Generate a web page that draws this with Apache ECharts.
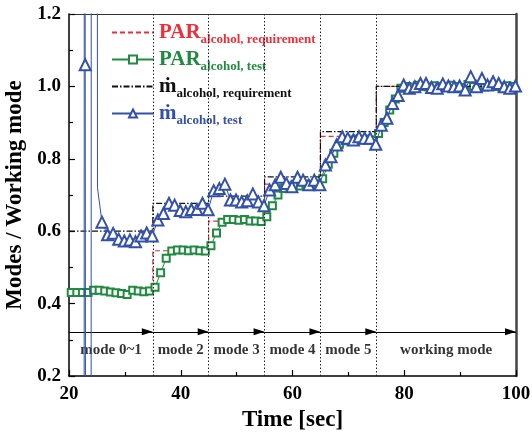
<!DOCTYPE html>
<html><head><meta charset="utf-8">
<script src="https://cdn.jsdelivr.net/npm/echarts@6/dist/echarts.min.js"></script>
<style>html,body{margin:0;padding:0;background:#fff}#c{width:532px;height:437px}</style>
</head><body><div id="c"></div>
<script>
// ---- data ----
const modeStarts = [20, 35, 45, 55, 65, 75, 100];
const modeNames = ['mode 0~1', 'mode 2', 'mode 3', 'mode 4', 'mode 5', 'working mode'];
const parRequirement = [0.43, 0.546, 0.628, 0.73, 0.862, 1.0];
const mdotRequirement = [0.6, 0.677, 0.697, 0.75, 0.875, 1.0];

const parTestTime = [20.4,21.4,22.4,23.4,24.4,25.4,26.4,27.4,28.4,29.4,30.4,31.4,32.4,33.4,34.4,35.4,36.4,37.4,38.4,39.4,
  40.4,41.4,42.4,43.4,44.4,45.4,46.4,47.4,48.4,49.4,50.4,51.4,52.4,53.4,54.4,55.4,56.4,57.4,58.4,59.4,
  60.4,61.4,62.4,63.4,64.4,65.4,66.4,67.4,68.4,69.4,70.4,71.4,72.4,73.4,74.4,75.4,76.4,77.4,78.4,79.4,
  80.4,81.4,82.4,83.4,84.4,85.4,86.4,87.4,88.4,89.4,90.4,91.4,92.4,93.4,94.4,95.4,96.4,97.4,98.4,99.4];
const parTestValues = [0.431,0.431,0.431,0.431,0.437,0.437,0.435,0.432,0.430,0.428,0.425,0.437,0.435,0.433,0.435,0.445,0.485,0.525,0.545,0.548,
  0.548,0.546,0.548,0.546,0.545,0.560,0.595,0.625,0.632,0.632,0.630,0.632,0.628,0.628,0.627,0.640,0.670,0.700,0.718,0.725,
  0.728,0.725,0.730,0.728,0.730,0.745,0.785,0.815,0.840,0.850,0.852,0.855,0.852,0.855,0.852,0.870,0.900,0.935,0.965,0.995,
  1.000,0.998,1.003,1.000,0.998,1.002,1.000,0.998,1.003,1.000,0.997,1.005,1.000,1.002,0.998,1.003,1.000,0.998,1.002,1.000];

const mdotSpikeTime = [22.7, 22.75, 22.9, 23.0, 23.95, 24.0, 25.0, 25.1];
const mdotSpikeValues = [-1, 3, 1.06, -1, -1, 3, 3, 0.72];
const mdotSpikeMarked = [false, false, true, false, false, false, false, false];

const mdotTestTime = [25.9,26.9,27.9,28.9,29.9,30.9,31.9,32.9,33.9,34.9,35.9,36.9,37.9,38.9,39.9,
  40.9,41.9,42.9,43.9,44.9,45.9,46.9,47.9,48.9,49.9,50.9,51.9,52.9,53.9,54.9,55.9,56.9,57.9,58.9,59.9,
  60.9,61.9,62.9,63.9,64.9,65.9,66.9,67.9,68.9,69.9,70.9,71.9,72.9,73.9,74.9,75.9,76.9,77.9,78.9,79.9,
  80.9,81.9,82.9,83.9,84.9,85.9,86.9,87.9,88.9,89.9,90.9,91.9,92.9,93.9,94.9,95.9,96.9,97.9,98.9,99.9];
const mdotTestValues = [0.625,0.590,0.594,0.578,0.573,0.576,0.571,0.587,0.595,0.587,0.631,0.649,0.677,0.672,0.657,
  0.654,0.660,0.660,0.677,0.659,0.712,0.718,0.730,0.686,0.686,0.681,0.684,0.703,0.681,0.670,0.714,0.728,0.749,0.732,0.723,
  0.749,0.741,0.728,0.741,0.728,0.783,0.806,0.838,0.861,0.857,0.852,0.861,0.857,0.857,0.840,0.893,0.912,0.953,0.975,1.004,
  0.995,0.999,1.008,1.008,0.997,0.995,1.007,1.001,0.999,1.001,0.990,1.027,0.999,1.022,1.004,1.013,1.008,0.999,0.995,1.001];

const legendNames = ['PAR_req', 'PAR_test', 'mdot_req', 'mdot_test'];
const legendMain = ['PAR', 'PAR', 'ṁ', 'ṁ'];
const legendSub = ['alcohol, requirement', 'alcohol, test', 'alcohol, requirement', 'alcohol, test'];
const arrowLevel = 0.322;
const modeLabelLevel = 0.272;

// ---- chart ----
const FONT = "'Liberation Serif','Times New Roman',serif";
const RED = '#ee2e38', GREEN = '#1f8b3f', BLUE = '#3350aa', BLACK = '#111111';
const legendColors = [RED, GREEN, BLACK, BLUE];
const legendHasMarker = [false, true, false, true];

function stepData(levels) {
  const d = [];
  for (let i = 0; i < levels.length; i++) {
    d.push([modeStarts[i], levels[i]]);
    d.push([modeStarts[i + 1], levels[i]]);
  }
  return d;
}

const mdotData = mdotSpikeTime.map((t, i) => ({
  value: [t, mdotSpikeValues[i]],
  symbol: mdotSpikeMarked[i] ? 'emptyTriangle' : 'none'
})).concat(mdotTestTime.map((t, i) => [t, mdotTestValues[i]]));

const parTestData = parTestTime.map((t, i) => [t, parTestValues[i]]);

const arrowSegments = [];
for (let i = 0; i < modeNames.length; i++) {
  arrowSegments.push([{ coord: [modeStarts[i], arrowLevel] }, { coord: [modeStarts[i + 1], arrowLevel] }]);
}
const modeLabelData = modeNames.map((n, i) => ({ value: [(modeStarts[i] + modeStarts[i + 1]) / 2, modeLabelLevel], name: n }));
const boundaryLines = modeStarts.slice(1, -1).map(x => ({ xAxis: x }));

const chart = echarts.init(document.getElementById('c'), null, { renderer: 'canvas' });
chart.setOption({
  animation: false,
  backgroundColor: '#fff',
  grid: { left: 69, right: 16, top: 14, bottom: 61, containLabel: false, outerBoundsMode: 'none' },
  textStyle: { fontFamily: FONT },
  legend: {
    orient: 'vertical', left: 111, top: 19, padding: 0, itemGap: 0,
    itemWidth: 42, itemHeight: 10, selectedMode: false,
    textStyle: { fontFamily: FONT, fontWeight: 'bold' },
    formatter: name => {
      const i = legendNames.indexOf(name);
      return '{m|' + legendMain[i] + '}{s|' + legendSub[i] + '}';
    },
    data: legendNames.map((n, i) => ({
      name: n,
      itemStyle: legendHasMarker[i] ? undefined : { opacity: 0 },
      textStyle: {
        rich: {
          m: { fontFamily: FONT, fontWeight: 'bold', fontSize: 21, lineHeight: 24, color: legendColors[i] },
          s: { fontFamily: FONT, fontWeight: 'bold', fontSize: 13, lineHeight: 14, padding: [14, 0, 0, 0], color: legendColors[i] }
        }
      }
    }))
  },
  xAxis: [{
    type: 'value', min: 20, max: 100, interval: 20,
    name: 'Time [sec]', nameLocation: 'middle', nameGap: 31,
    nameTextStyle: { fontFamily: FONT, fontWeight: 'bold', fontSize: 23, color: '#000' },
    axisLine: { show: true, lineStyle: { color: '#000', width: 1.5 } },
    axisTick: { show: true, inside: true, length: 6, lineStyle: { color: '#000', width: 1.2 } },
    minorTick: { show: true, splitNumber: 2, length: 4, lineStyle: { color: '#000', width: 1.2 } },
    axisLabel: { fontFamily: FONT, fontWeight: 'bold', fontSize: 19, color: '#000', margin: 9, showMinLabel: true, showMaxLabel: true },
    splitLine: { show: false }
  }, {
    type: 'value', min: 20, max: 100, position: 'top',
    axisLine: { show: true, lineStyle: { color: '#333', width: 1 } },
    axisTick: { show: false }, axisLabel: { show: false }, splitLine: { show: false }
  }],
  yAxis: [{
    type: 'value', min: 0.2, max: 1.2, interval: 0.2,
    name: 'Modes / Working mode', nameLocation: 'middle', nameGap: 37, nameRotate: 90,
    nameTextStyle: { fontFamily: FONT, fontWeight: 'bold', fontSize: 23, color: '#000' },
    axisLine: { show: true, lineStyle: { color: '#000', width: 1.5 } },
    axisTick: { show: true, inside: true, length: 6, lineStyle: { color: '#000', width: 1.2 } },
    minorTick: { show: true, splitNumber: 2, length: 4, lineStyle: { color: '#000', width: 1.2 } },
    axisLabel: { fontFamily: FONT, fontWeight: 'bold', fontSize: 19, color: '#000', margin: 8,
      formatter: v => v.toFixed(1), showMinLabel: true, showMaxLabel: true },
    splitLine: { show: false }
  }, {
    type: 'value', min: 0.2, max: 1.2, position: 'right',
    axisLine: { show: true, lineStyle: { color: '#444', width: 2.5 } },
    axisTick: { show: false }, axisLabel: { show: false }, splitLine: { show: false }
  }],
  series: [
    {
      name: 'PAR_req', type: 'line', data: stepData(parRequirement), symbol: 'none',
      lineStyle: { color: RED, width: 1.2, type: [5, 3] }, itemStyle: { color: RED }, z: 3
    },
    {
      name: 'PAR_test', type: 'line', data: parTestData, symbol: 'emptyRect', symbolSize: 7,
      lineStyle: { color: GREEN, width: 1 }, itemStyle: { color: GREEN, borderWidth: 1 }, z: 4
    },
    {
      name: 'mdot_req', type: 'line', data: stepData(mdotRequirement), symbol: 'none',
      lineStyle: { color: BLACK, width: 1.2, type: [6, 2, 1.5, 2] }, itemStyle: { color: BLACK }, z: 5
    },
    {
      name: 'mdot_test', type: 'line', data: mdotData, symbol: 'emptyTriangle', symbolSize: 11,
      lineStyle: { color: BLUE, width: 1 }, itemStyle: { color: BLUE, borderWidth: 1 }, z: 6
    },
    {
      name: 'annotations', type: 'line', data: [], silent: true,
      markLine: {
        silent: true, symbol: 'none', label: { show: false },
        lineStyle: { color: '#222', width: 1, type: [1.5, 2] },
        data: boundaryLines
      }
    },
    {
      name: 'arrows', type: 'line', data: [], silent: true,
      markLine: {
        silent: true, symbol: ['none', 'triangle'], symbolSize: [7, 11],
        symbolOffset: [[0, 0], [0, 5.5]], label: { show: false },
        lineStyle: { color: '#000', width: 1, type: 'solid' },
        data: arrowSegments
      }
    },
    {
      name: 'modeLabels', type: 'scatter', data: modeLabelData, symbolSize: 0, silent: true,
      label: { show: true, position: 'inside', formatter: p => p.name,
        fontFamily: FONT, fontWeight: 'bold', fontSize: 15, color: '#000' }
    }
  ]
});
</script>
</body></html>
